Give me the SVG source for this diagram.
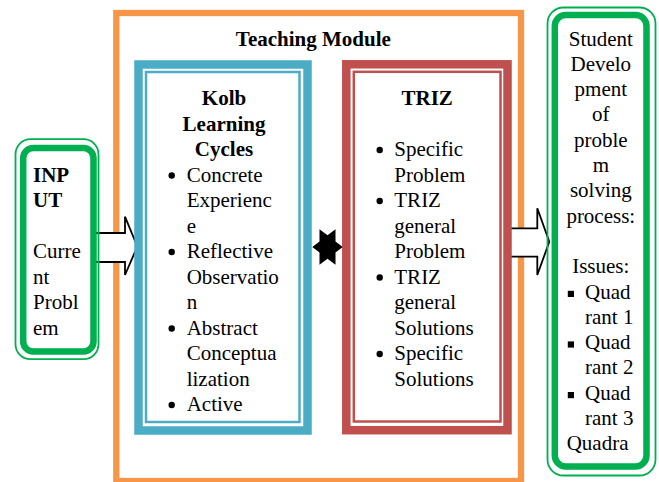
<svg xmlns="http://www.w3.org/2000/svg" width="659" height="482" viewBox="0 0 659 482">
<style>
text{font-family:"Liberation Serif","Times New Roman",serif;font-size:21px;fill:#000}
.b{font-weight:bold}
.c{text-anchor:middle}
.arrow{fill:#fff;stroke:#000;stroke-width:1.8;stroke-linejoin:miter}
.gthin{fill:none;stroke:#00B050;stroke-width:1.8}
.gthick{fill:#fff;stroke:#00B050;stroke-width:6.5}
.dot{fill:#000}
</style>
<rect width="659" height="482" fill="#fff"/>
<g id="teaching-module">
<rect x="116.3" y="13" width="404.7" height="468" fill="#fff" stroke="#F79646" stroke-width="6.3"/>
<text class="b c" x="313.3" y="46">Teaching Module</text>
</g>
<g id="connectors">
<polygon class="arrow" points="90,233 125,233 125,216.7 137.3,246.5 125,275 125,262 90,262"/>
<polygon class="arrow" points="505,228.3 537.3,228.3 537.3,208.3 549.3,241.7 537.3,275 537.3,256.7 505,256.7"/>
</g>
<g id="kolb">
<rect x="138.5" y="64.5" width="169" height="366" fill="#fff" stroke="#4BACC6" stroke-width="8.5"/>
<rect x="146" y="72" width="153.5" height="350" fill="none" stroke="#4BACC6" stroke-width="2.5"/>
<text class="b c" x="224"><tspan x="224" y="105">Kolb</tspan><tspan x="224" y="130.5">Learning</tspan><tspan x="224" y="156">Cycles</tspan></text>
<g class="dot"><circle cx="171.7" cy="175.5" r="3.2"/><circle cx="171.7" cy="252" r="3.2"/><circle cx="171.7" cy="328.5" r="3.2"/><circle cx="171.7" cy="405" r="3.2"/></g>
<text x="186.7"><tspan x="186.7" y="181.5">Concrete</tspan><tspan x="186.7" y="207">Experienc</tspan><tspan x="186.7" y="232.5">e</tspan><tspan x="186.7" y="258">Reflective</tspan><tspan x="186.7" y="283.5">Observatio</tspan><tspan x="186.7" y="309">n</tspan><tspan x="186.7" y="334.5">Abstract</tspan><tspan x="186.7" y="360">Conceptua</tspan><tspan x="186.7" y="385.5">lization</tspan><tspan x="186.7" y="411">Active</tspan></text>
</g>
<g id="triz">
<rect x="346.3" y="64.3" width="161.2" height="365.9" fill="#fff" stroke="#C0504D" stroke-width="8.5"/>
<rect x="353.8" y="71.8" width="146.7" height="349.7" fill="none" stroke="#C0504D" stroke-width="2.5"/>
<text class="b c" x="427.2" y="105">TRIZ</text>
<g class="dot"><circle cx="379.7" cy="150" r="3.2"/><circle cx="379.7" cy="201" r="3.2"/><circle cx="379.7" cy="277.5" r="3.2"/><circle cx="379.7" cy="354" r="3.2"/></g>
<text x="394.3"><tspan x="394.3" y="156">Specific</tspan><tspan x="394.3" y="181.5">Problem</tspan><tspan x="394.3" y="207">TRIZ</tspan><tspan x="394.3" y="232.5">general</tspan><tspan x="394.3" y="258">Problem</tspan><tspan x="394.3" y="283.5">TRIZ</tspan><tspan x="394.3" y="309">general</tspan><tspan x="394.3" y="334.5">Solutions</tspan><tspan x="394.3" y="360">Specific</tspan><tspan x="394.3" y="385.5">Solutions</tspan></text>
</g>
<g id="star">
<polygon fill="#000" points="342.7,247 335.5,241.5 335.5,229.2 327.5,235.3 319.5,229.2 319.5,241.5 312.3,247 319.5,252.5 319.5,264.8 327.5,258.7 335.5,264.8 335.5,252.5"/>
</g>
<g id="input">
<rect x="15.5" y="139.2" width="83" height="220" rx="15" fill="#fff" class="gthin"/>
<rect x="23.2" y="148" width="70.3" height="203.5" rx="10" class="gthick"/>
<text class="b" x="33"><tspan x="33" y="181.5">INP</tspan><tspan x="33" y="207">UT</tspan></text>
<text x="33"><tspan x="33" y="258">Curre</tspan><tspan x="33" y="283.5">nt</tspan><tspan x="33" y="309">Probl</tspan><tspan x="33" y="334.5">em</tspan></text>
</g>
<g id="output">
<rect x="547.5" y="7.5" width="108" height="468" rx="16" fill="#fff" class="gthin"/>
<rect x="554.8" y="15" width="91.7" height="451.5" rx="11" class="gthick"/>
<text class="c" x="600.8"><tspan x="600.8" y="45.5">Student</tspan><tspan x="600.8" y="70.8">Develo</tspan><tspan x="600.8" y="96.1">pment</tspan><tspan x="600.8" y="121.4">of</tspan><tspan x="600.8" y="146.7">proble</tspan><tspan x="600.8" y="172">m</tspan><tspan x="600.8" y="197.3">solving</tspan><tspan x="600.8" y="222.6">process:</tspan><tspan x="600.8" y="273.2">Issues:</tspan></text>
<g class="dot"><rect x="567.8" y="290.8" width="6.2" height="6.2"/><rect x="567.8" y="341.4" width="6.2" height="6.2"/><rect x="567.8" y="392" width="6.2" height="6.2"/></g>
<text x="585"><tspan x="585" y="298.5">Quad</tspan><tspan x="585" y="323.8">rant 1</tspan><tspan x="585" y="349.1">Quad</tspan><tspan x="585" y="374.4">rant 2</tspan><tspan x="585" y="399.7">Quad</tspan><tspan x="585" y="425">rant 3</tspan></text>
<text x="566.7" y="450.3">Quadra</text>
</g>
</svg>
